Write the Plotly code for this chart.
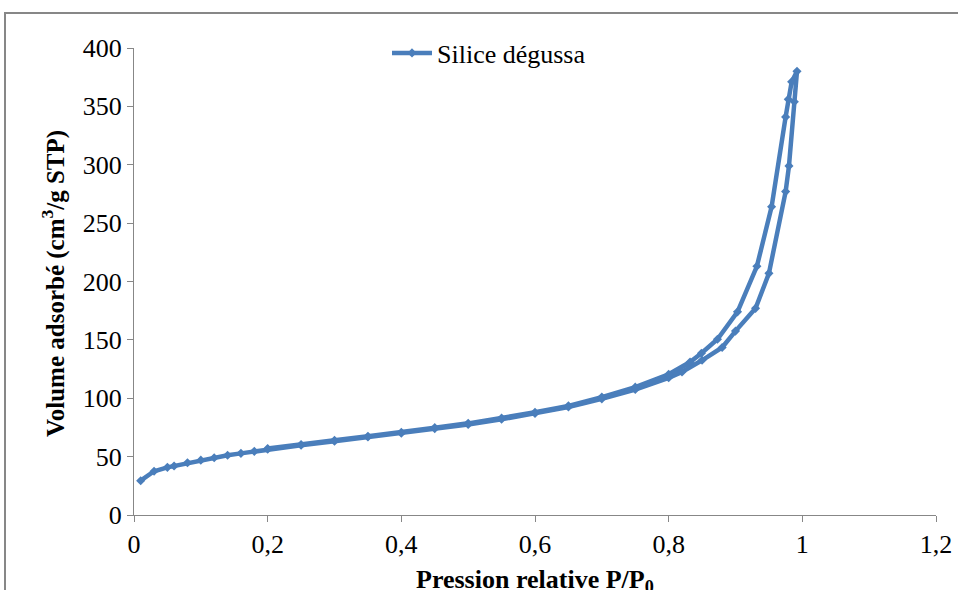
import plotly.graph_objects as go

# Adsorption branch (P/P0, volume)
ads_p = [0.01, 0.03, 0.05, 0.06, 0.08, 0.10, 0.12, 0.14, 0.16, 0.18, 0.20, 0.25,
         0.30, 0.35, 0.40, 0.45, 0.50, 0.55, 0.60, 0.65, 0.70, 0.75, 0.80, 0.82,
         0.85, 0.88, 0.90, 0.93, 0.95, 0.975, 0.98, 0.988, 0.992]
ads_v = [29.4, 37.5, 40.8, 42.0, 44.8, 47.0, 49.0, 51.2, 52.8, 54.5, 56.3, 59.7,
         63.2, 66.8, 70.0, 74.0, 77.6, 82.0, 87.0, 92.5, 99.5, 107.5, 117.5, 122.5,
         132.5, 143.5, 157.5, 177.0, 207.0, 277.0, 299.0, 354.0, 380.0]
# Desorption branch
des_p = [0.984, 0.979, 0.975, 0.954, 0.932, 0.903, 0.873, 0.849, 0.832, 0.80,
         0.75, 0.70, 0.65, 0.60, 0.55, 0.50, 0.45, 0.40, 0.35, 0.30, 0.25, 0.20]
des_v = [371.0, 356.0, 341.0, 264.0, 213.0, 174.0, 150.5, 138.5, 131.0, 120.5,
         109.5, 101.0, 93.5, 88.0, 83.0, 78.5, 74.8, 70.8, 67.5, 64.0, 60.3, 57.0]

series_name = "Silice dégussa"
x_tickvals = [0, 0.2, 0.4, 0.6, 0.8, 1.0, 1.2]
x_ticktext = ["0", "0,2", "0,4", "0,6", "0,8", "1", "1,2"]
y_tickvals = [0, 50, 100, 150, 200, 250, 300, 350, 400]
y_ticktext = ["0", "50", "100", "150", "200", "250", "300", "350", "400"]

blue = "#4A7EBB"
grey = "#878787"
font = "Liberation Serif, Times New Roman, serif"

fig = go.Figure()
fig.add_trace(go.Scatter(
    x=ads_p + des_p, y=ads_v + des_v, mode="lines+markers", name=series_name,
    line=dict(color=blue, width=4.5),
    marker=dict(symbol="diamond", size=7, color=blue),
))

L, R, T, B = 134, 936, 48, 515
W, H = 958, 590
pw, ph = R - L, B - T

def px(xp):
    return (xp - L) / pw

def py(yp):
    return (B - yp) / ph

fig.update_layout(
    width=W, height=H,
    margin=dict(l=L, r=W - R, t=T, b=H - B, autoexpand=False),
    paper_bgcolor="white", plot_bgcolor="white",
    font=dict(family=font, size=26, color="black"),
    showlegend=True,
    legend=dict(x=px(387), y=py(53), xanchor="left", yanchor="middle",
                bgcolor="rgba(0,0,0,0)", font=dict(size=26, family=font),
                itemwidth=40),
    xaxis=dict(range=[0, 1.2], tickvals=x_tickvals, ticktext=x_ticktext,
               showgrid=False, zeroline=False, showline=True, linecolor=grey,
               linewidth=1, ticks="outside", ticklen=6, tickcolor=grey,
               tickfont=dict(size=26, family=font, color="black")),
    yaxis=dict(range=[0, 400], tickvals=y_tickvals, ticktext=y_ticktext,
               showgrid=False, zeroline=False, showline=True, linecolor=grey,
               linewidth=1, ticks="outside", ticklen=6, tickcolor=grey,
               tickfont=dict(size=26, family=font, color="black")),
    shapes=[dict(type="rect", xref="paper", yref="paper",
                 x0=px(5), x1=px(965), y0=py(600), y1=py(13),
                 line=dict(color=grey, width=2), fillcolor="rgba(0,0,0,0)",
                 layer="below")],
    annotations=[
        dict(text="<b>Volume adsorbé (cm<sup>3</sup>/g STP)</b>", xref="paper",
             yref="paper", x=px(53), y=py(284), textangle=-90, showarrow=False,
             xanchor="center", yanchor="middle", font=dict(size=25, family=font)),
        dict(text="<b>Pression relative P/P<sub>0</sub></b>", xref="paper",
             yref="paper", x=px(535), y=py(563), showarrow=False,
             xanchor="center", yanchor="top", font=dict(size=26, family=font)),
    ],
)

fig.write_html("out.html", config={"displayModeBar": False},
               post_script="document.body.style.margin='0';document.body.style.padding='0';")
